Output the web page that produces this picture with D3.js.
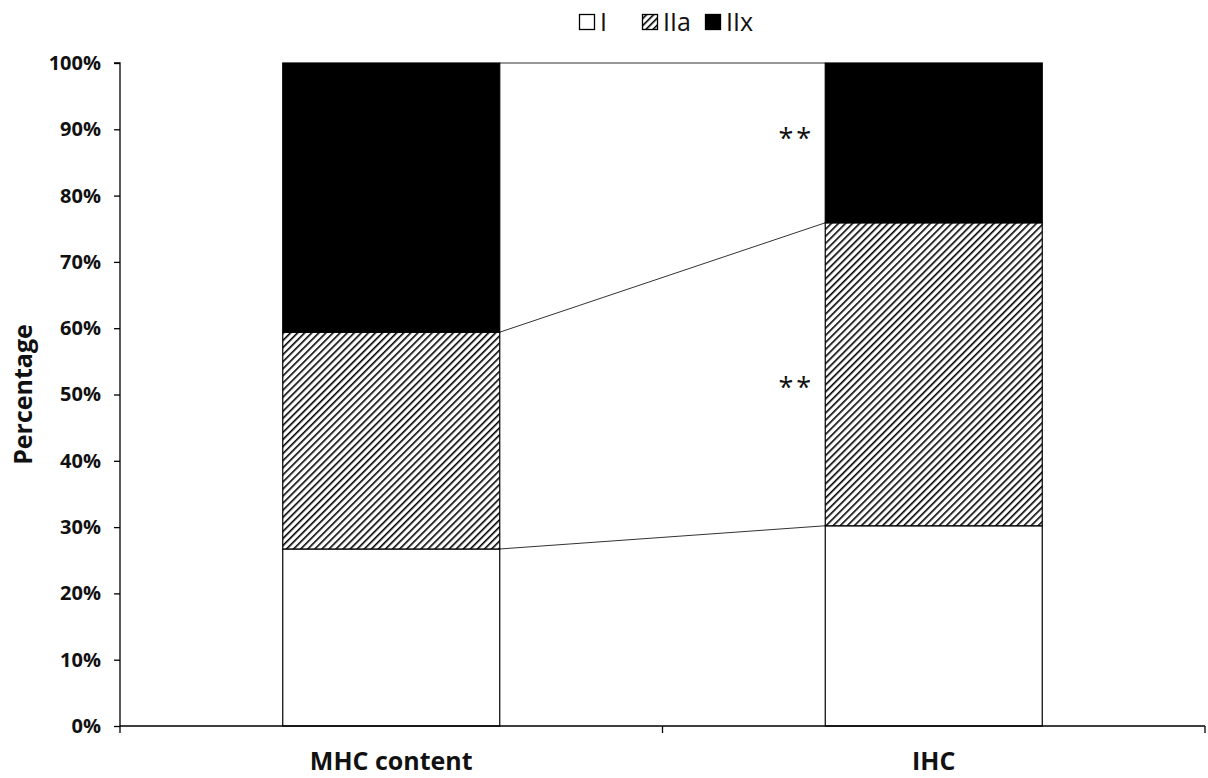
<!DOCTYPE html>
<html><head><meta charset="utf-8">
<script src="https://cdn.jsdelivr.net/npm/d3@7"></script>
<style>body{margin:0;background:#fff;} svg{display:block;}</style>
</head><body>
<script>
const categories = ["MHC content", "IHC"];
const seriesNames = ["I", "IIa", "IIx"];
const valuesI   = [26.7, 30.2];
const valuesIIa = [32.7, 45.7];
const valuesIIx = [40.6, 24.1];
const yTicks = [0,10,20,30,40,50,60,70,80,90,100];
const sigLabels = ["**", "**"];
const sigPositions = [89, 51.5];

const W = 1208, H = 778;
const margin = {left:120, right:3, top:63, bottom:52};
const svg = d3.select("body").append("svg").attr("width", W).attr("height", H);
const font = "'Open Sans', 'Noto Sans', sans-serif";

const defs = svg.append("defs");
const pat = defs.append("pattern").attr("id","hatch").attr("patternUnits","userSpaceOnUse")
  .attr("width",5).attr("height",5).attr("patternTransform","rotate(45)");
pat.append("rect").attr("width",5).attr("height",5).attr("fill","#fff");
pat.append("line").attr("x1",0).attr("y1",0).attr("x2",0).attr("y2",5).attr("stroke","#000").attr("stroke-width",3.2);

const fills = {"I":"#fff","IIa":"url(#hatch)","IIx":"#000"};

const x = d3.scaleBand().domain(categories).range([margin.left, W-margin.right]).paddingInner(0).paddingOuter(0);
const y = d3.scaleLinear().domain([0,100]).range([H-margin.bottom, margin.top]);
const barW = x.bandwidth()*0.4;

const rows = categories.map((c,i)=>({cat:c, I:valuesI[i], IIa:valuesIIa[i], IIx:valuesIIx[i]}));
const stack = d3.stack().keys(seriesNames)(rows);

const bx = c => x(c) + (x.bandwidth()-barW)/2;
stack.forEach(s=>{
  svg.append("line")
    .attr("x1", bx(categories[0])+barW).attr("y1", y(s[0][1]))
    .attr("x2", bx(categories[1])).attr("y2", y(s[1][1]))
    .attr("stroke","#333").attr("stroke-width",1);
});

stack.forEach(s=>{
  svg.append("g").selectAll("rect").data(s).join("rect")
    .attr("x", d=>bx(d.data.cat)).attr("width", barW)
    .attr("y", d=>y(d[1])).attr("height", d=>y(d[0])-y(d[1]))
    .attr("fill", fills[s.key]).attr("stroke","#000").attr("stroke-width",1.2);
});

sigLabels.forEach((lab,i)=>{
  svg.append("text").attr("x", bx(categories[1])-11).attr("y", y(sigPositions[i])+5)
    .attr("text-anchor","end").attr("dominant-baseline","middle")
    .attr("font-family",font).attr("font-size",27).attr("letter-spacing",3).attr("fill","#111").text(lab);
});

const yAxis = svg.append("g").attr("transform",`translate(${margin.left},0)`)
  .call(d3.axisLeft(y).tickValues(yTicks).tickFormat(d=>d+"%").tickSize(6).tickPadding(13));
yAxis.select(".domain").attr("stroke","#000").attr("stroke-width",1.3).attr("d",`M-6,${y(100)}H0V${y(0)}`);
yAxis.selectAll(".tick line").attr("stroke","#000").attr("stroke-width",1.3);
yAxis.selectAll("text").attr("font-family",font).attr("font-weight","bold").attr("font-size",20).attr("fill","#111");

const xAxis = svg.append("g").attr("transform",`translate(0,${y(0)})`);
xAxis.append("line").attr("x1",margin.left).attr("x2",W-margin.right).attr("stroke","#000").attr("stroke-width",1.3);
const bounds = [x.range()[0], ...categories.map(c=>x(c)+x.bandwidth())];
xAxis.selectAll("line.t").data(bounds).join("line").attr("class","t")
  .attr("x1",d=>d).attr("x2",d=>d).attr("y1",0).attr("y2",7).attr("stroke","#000").attr("stroke-width",1.3);
xAxis.selectAll("text").data(categories).join("text")
  .attr("x",d=>x(d)+x.bandwidth()/2).attr("y",44).attr("text-anchor","middle")
  .attr("font-family",font).attr("font-weight","bold").attr("font-size",25).attr("fill","#111").text(d=>d);

svg.append("text").attr("transform",`translate(32,${(y(0)+y(100))/2}) rotate(-90)`)
  .attr("text-anchor","middle").attr("font-family",font).attr("font-weight","bold").attr("font-size",25).attr("fill","#111")
  .text("Percentage");

const leg = svg.append("g").attr("transform","translate(579,11)");
const legX = [0, 63, 126];
seriesNames.forEach((k,i)=>{
  const g = leg.append("g").attr("transform",`translate(${legX[i]},0)`);
  g.append("rect").attr("x",0.5).attr("y",3.5).attr("width",15).attr("height",15)
    .attr("fill",fills[k]).attr("stroke","#000").attr("stroke-width",1.3);
  g.append("text").attr("x",21).attr("y",20).attr("font-family",font).attr("font-size",25).attr("fill","#111").text(k);
});
</script>
</body></html>
